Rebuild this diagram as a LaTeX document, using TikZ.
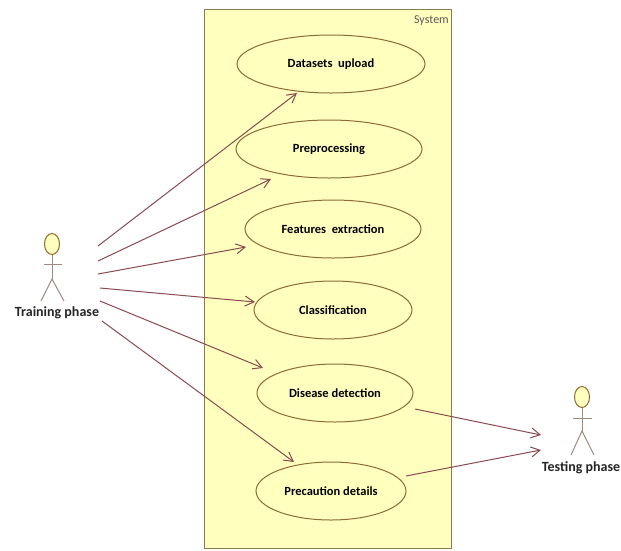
\documentclass[tikz,border=0pt]{standalone}
\usepackage{fontspec}
\setmainfont{Carlito}
\usetikzlibrary{arrows.meta,shapes.geometric}
\definecolor{sysfill}{HTML}{FFFFBE}
\definecolor{sysline}{HTML}{8C7A50}
\definecolor{uline}{HTML}{8E6A35}
\definecolor{conn}{HTML}{8A4A50}
\definecolor{actline}{HTML}{A08A80}
\tikzset{
  usecase/.style={ellipse,draw=uline,line width=1pt,fill=sysfill,inner sep=0pt,font=\bfseries\fontsize{12.5}{14}\selectfont,text=black},
  conn/.style={draw=conn,line width=1pt,-{Straight Barb[length=9pt,width=10pt,line width=1pt]}},
  actorlimb/.style={draw=actline,line width=1pt},
  actorhead/.style={ellipse,draw=uline,line width=1pt,fill=sysfill,minimum width=15pt,minimum height=21pt,inner sep=0pt},
  actorlabel/.style={font=\bfseries\fontsize{14}{16}\selectfont,text=black!85,inner sep=0pt},
  sysbox/.style={draw=sysline,line width=1.2pt,fill=sysfill}
}
\begin{document}
\begin{tikzpicture}[x=1pt,y=-1pt]
\useasboundingbox (0,0) rectangle (621,550);
\fill[white] (0,0) rectangle (621,550);
\node[sysbox,minimum width=247pt,minimum height=539pt,inner sep=0pt,anchor=north west] (sys) at (204,9) {};
\node[font=\fontsize{12}{13}\selectfont,text=black!65,anchor=north east,inner sep=0pt] (syslabel) at (449,16) {System};
\node[usecase,minimum width=188pt,minimum height=58pt] (u1) at (331,64) {Datasets\ \ upload};
\node[usecase,minimum width=186pt,minimum height=58pt] (u2) at (329,149) {Preprocessing};
\node[usecase,minimum width=176pt,minimum height=58pt] (u3) at (333,229) {Features\ \ extraction};
\node[usecase,minimum width=158pt,minimum height=58pt] (u4) at (333,310) {Classification};
\node[usecase,minimum width=156pt,minimum height=58pt] (u5) at (335,393) {Disease detection};
\node[usecase,minimum width=150pt,minimum height=58pt] (u6) at (331,491) {Precaution details};
% training actor
\node[actorhead] (h1) at (52,244) {};
\coordinate (b1) at (52,279);
\coordinate (al1) at (44,264);
\coordinate (ar1) at (62,264);
\coordinate (ll1) at (41,301);
\coordinate (lr1) at (64,301);
\draw[actorlimb] (h1.south) -- (b1);
\draw[actorlimb] (al1) -- (ar1);
\draw[actorlimb] (ll1) -- (b1) -- (lr1);
\node[actorlabel] (train) at (57,313) {Training phase};
% testing actor
\node[actorhead] (h2) at (582,397) {};
\coordinate (b2) at (582,431);
\coordinate (al2) at (573,418);
\coordinate (ar2) at (592,418);
\coordinate (ll2) at (571,455);
\coordinate (lr2) at (594,455);
\draw[actorlimb] (h2.south) -- (b2);
\draw[actorlimb] (al2) -- (ar2);
\draw[actorlimb] (ll2) -- (b2) -- (lr2);
\node[actorlabel] (test) at (581,468) {Testing phase};
% connector ends
\coordinate (s1) at (98,246);
\coordinate (s2) at (98,261);
\coordinate (s3) at (98,274);
\coordinate (s4) at (100,288);
\coordinate (s5) at (100,301);
\coordinate (s6) at (102,321);
\coordinate (e1) at (297,93);
\coordinate (e2) at (271,179);
\coordinate (e3) at (246,247);
\coordinate (e4) at (255,302);
\coordinate (e5) at (263,368);
\coordinate (e6) at (294,462);
\coordinate (f1) at (415,409);
\coordinate (f2) at (406,476);
\coordinate (g1) at (541,435);
\coordinate (g2) at (541,450);
\draw[conn] (s1) -- (e1);
\draw[conn] (s2) -- (e2);
\draw[conn] (s3) -- (e3);
\draw[conn] (s4) -- (e4);
\draw[conn] (s5) -- (e5);
\draw[conn] (s6) -- (e6);
\draw[conn] (f1) -- (g1);
\draw[conn] (f2) -- (g2);
\end{tikzpicture}
\end{document}
